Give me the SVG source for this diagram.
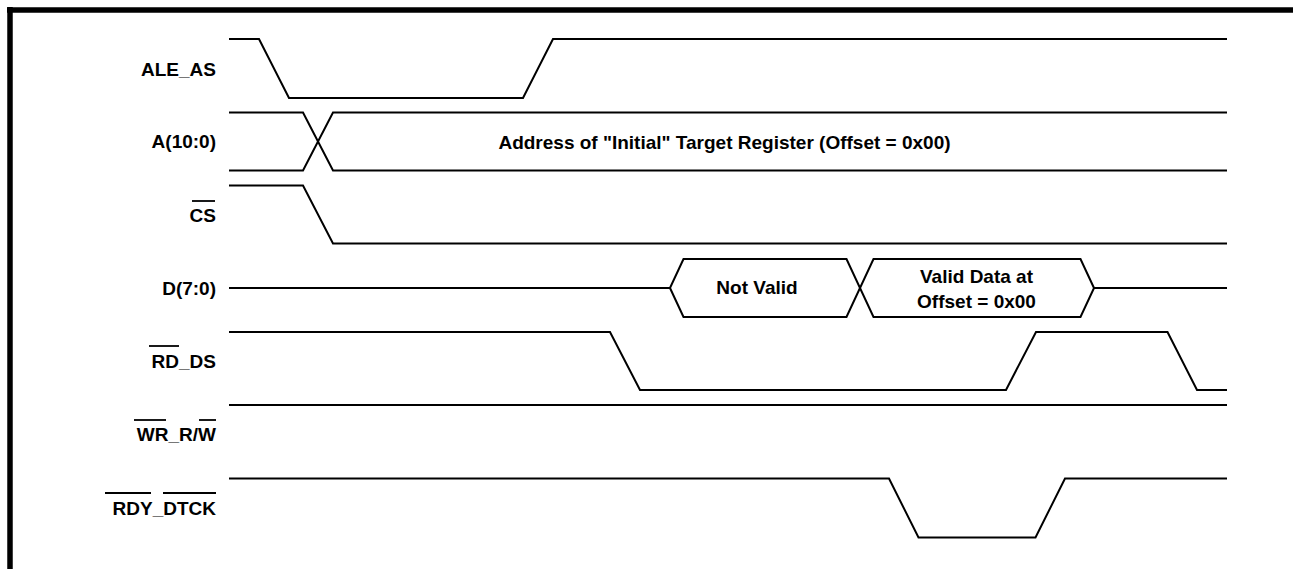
<svg xmlns="http://www.w3.org/2000/svg" width="1293" height="569" viewBox="0 0 1293 569">
<style>
.w{fill:none;stroke:#000;stroke-width:2;stroke-linejoin:miter}
.b{fill:none;stroke:#000;stroke-width:5.5}
.ov{stroke:#000;stroke-width:1.8}
text{font-family:"Liberation Sans",Arial,Helvetica,sans-serif;font-weight:bold;font-size:19px;fill:#000}
.lb{text-anchor:end}
.c{text-anchor:middle}
</style>
<rect width="1293" height="569" fill="#fff"/>
<g id="frame">
<line class="b" x1="7" y1="10" x2="1293" y2="10"/>
<line class="b" x1="10" y1="7" x2="10" y2="569"/>
</g>
<g id="ALE_AS">
<text class="lb" x="216" y="76">ALE_AS</text>
<polyline class="w" points="229,39 259,39 289,98 523,98 553,39 1227,39"/>
</g>
<g id="A">
<text class="lb" x="216" y="148">A(10:0)</text>
<polyline class="w" points="229,112.5 303,112.5 333,170.5 1227,170.5"/>
<polyline class="w" points="229,170.5 303,170.5 333,112.5 1227,112.5"/>
<text class="c" x="724.5" y="149">Address of "Initial" Target Register (Offset = 0x00)</text>
</g>
<g id="CS">
<text class="lb" x="216" y="222">CS</text>
<line class="ov" x1="192" y1="201" x2="215" y2="201"/>
<polyline class="w" points="229,185.5 303,185.5 333,243.5 1227,243.5"/>
</g>
<g id="D">
<text class="lb" x="216" y="295">D(7:0)</text>
<polyline class="w" points="229,288 670,288 683.5,259 846.5,259 873.5,317 1080.5,317 1094,288 1227,288"/>
<polyline class="w" points="670,288 683.5,317 846.5,317 873.5,259 1080.5,259 1094,288"/>
<text class="c" x="757" y="294">Not Valid</text>
<text class="c" x="976.5" y="283">Valid Data at</text>
<text class="c" x="976.5" y="308">Offset = 0x00</text>
</g>
<g id="RD_DS">
<text class="lb" x="216" y="368">RD_DS</text>
<line class="ov" x1="149" y1="346" x2="179" y2="346"/>
<polyline class="w" points="229,332 610,332 640,390 1006,390 1036,332 1167.5,332 1197,390 1227,390"/>
</g>
<g id="WR_RW">
<text class="lb" x="216" y="441">WR_R/W</text>
<line class="ov" x1="134" y1="420" x2="166" y2="420"/>
<line class="ov" x1="199" y1="420" x2="216" y2="420"/>
<line class="w" x1="229" y1="405" x2="1227" y2="405"/>
</g>
<g id="RDY_DTCK">
<text class="lb" x="216" y="515">RDY_DTCK</text>
<line class="ov" x1="105" y1="493" x2="151" y2="493"/>
<line class="ov" x1="163" y1="493" x2="216" y2="493"/>
<polyline class="w" points="229,478.5 889,478.5 918.5,537.5 1035.5,537.5 1065,478.5 1227,478.5"/>
</g>
</svg>
